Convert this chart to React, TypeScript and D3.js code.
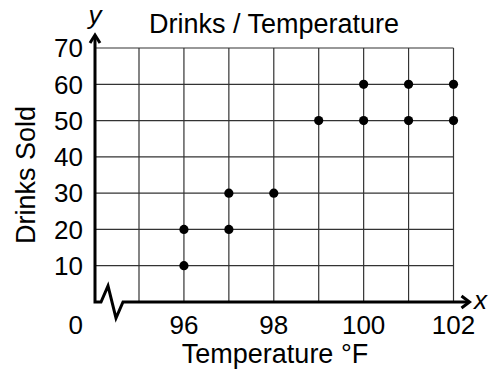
import React, { useEffect, useRef } from "react";
import * as d3 from "d3";

const temps = [96, 96, 97, 97, 98, 99, 100, 100, 101, 101, 102, 102];
const drinks = [10, 20, 20, 30, 30, 50, 50, 60, 50, 60, 50, 60];
const xTicks = [96, 98, 100, 102];
const yTicks = [10, 20, 30, 40, 50, 60, 70];
const xGrid = [95, 96, 97, 98, 99, 100, 101, 102];

const sizes = { width: 492, height: 370 };
const margin = { top: 48, bottom: 68, left: 139, right: 38.5 };
const axisX = 95; // y-axis sits left of the break

const font = "'Liberation Sans', Arial, sans-serif";

export default function App() {
  const ref = useRef<SVGSVGElement>(null);

  useEffect(() => {
    const svg = d3.select(ref.current);
    svg.selectAll("*").remove();

    const x = d3.scaleLinear()
      .domain([95, 102])
      .range([margin.left, sizes.width - margin.right]);
    const y = d3.scaleLinear()
      .domain([0, 70])
      .range([sizes.height - margin.bottom, margin.top]);
    const y0 = y(0);
    const xEnd = x(102);

    // grid
    const grid = svg.append("g").attr("stroke", "#333").attr("stroke-width", 1.2);
    grid.selectAll("line.h")
      .data(yTicks)
      .join("line")
      .attr("class", "h")
      .attr("x1", axisX).attr("x2", xEnd)
      .attr("y1", (d) => y(d)).attr("y2", (d) => y(d));
    grid.selectAll("line.v")
      .data(xGrid)
      .join("line")
      .attr("class", "v")
      .attr("x1", (d) => x(d)).attr("x2", (d) => x(d))
      .attr("y1", y(70)).attr("y2", y0);

    // axes with break
    const axes = svg.append("g")
      .attr("fill", "none")
      .attr("stroke", "#000")
      .attr("stroke-width", 3)
      .attr("stroke-linejoin", "miter");
    axes.append("polyline")
      .attr("points", [
        [axisX, 36], [axisX, y0], [axisX + 6, y0], [axisX + 13, y0 - 16],
        [axisX + 21, y0 + 16], [axisX + 28, y0], [xEnd + 15, y0],
      ].map((p) => p.join(",")).join(" "));
    axes.append("polyline")
      .attr("points", `${axisX - 5},${43} ${axisX},${35} ${axisX + 5},${43}`);
    axes.append("polyline")
      .attr("points", `${xEnd + 8},${y0 - 6} ${xEnd + 16},${y0} ${xEnd + 8},${y0 + 6}`);

    // points
    svg.append("g")
      .selectAll("circle")
      .data(temps)
      .join("circle")
      .attr("cx", (d) => x(d))
      .attr("cy", (d, i) => y(drinks[i]))
      .attr("r", 4.6)
      .attr("fill", "#000");

    const text = svg.append("g")
      .attr("font-family", font)
      .attr("font-size", 26)
      .attr("fill", "#000");

    text.selectAll("text.yt")
      .data(yTicks)
      .join("text")
      .attr("class", "yt")
      .attr("x", 83)
      .attr("y", (d) => y(d) + 9.3)
      .attr("text-anchor", "end")
      .text((d) => d);
    text.append("text")
      .attr("x", 83).attr("y", 334)
      .attr("text-anchor", "end")
      .text("0");
    text.selectAll("text.xt")
      .data(xTicks)
      .join("text")
      .attr("class", "xt")
      .attr("x", (d) => x(d))
      .attr("y", 334)
      .attr("text-anchor", "middle")
      .text((d) => d);

    text.append("text")
      .attr("x", 274).attr("y", 33)
      .attr("text-anchor", "middle")
      .attr("font-size", 27)
      .text("Drinks / Temperature");
    text.append("text")
      .attr("x", 275).attr("y", 363)
      .attr("text-anchor", "middle")
      .attr("font-size", 27)
      .text("Temperature °F");
    text.append("text")
      .attr("transform", `translate(35,${(y(0) + y(70)) / 2}) rotate(-90)`)
      .attr("text-anchor", "middle")
      .attr("font-size", 27)
      .text("Drinks Sold");
    text.append("text")
      .attr("x", axisX).attr("y", 24)
      .attr("text-anchor", "middle")
      .attr("font-style", "italic")
      .text("y");
    text.append("text")
      .attr("x", xEnd + 27).attr("y", 309)
      .attr("text-anchor", "middle")
      .attr("font-style", "italic")
      .text("x");
  });

  return (
    <svg
      ref={ref}
      width={sizes.width}
      height={sizes.height}
      style={{ position: "absolute", left: 0, top: 0, background: "#fff" }}
    />
  );
}
